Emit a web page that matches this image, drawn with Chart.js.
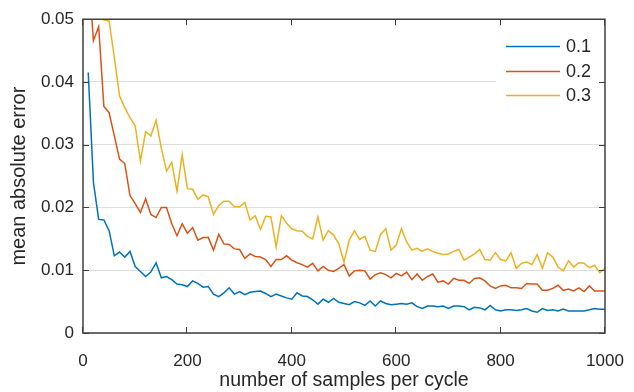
<!DOCTYPE html>
<html>
<head>
<meta charset="utf-8">
<script src="https://cdn.jsdelivr.net/npm/chart.js@4.4.1/dist/chart.umd.min.js"></script>
<style>
  body { margin: 0; background: #fff; }
</style>
</head>
<body>
<canvas id="mae-canvas" width="634" height="392"></canvas>
<script>
// samples per cycle (x)
const samples = [10, 20, 30, 40, 50, 60, 70, 80, 90, 100,
  110, 120, 130, 140, 150, 160, 170, 180, 190, 200,
  210, 220, 230, 240, 250, 260, 270, 280, 290, 300,
  310, 320, 330, 340, 350, 360, 370, 380, 390, 400,
  410, 420, 430, 440, 450, 460, 470, 480, 490, 500,
  510, 520, 530, 540, 550, 560, 570, 580, 590, 600,
  610, 620, 630, 640, 650, 660, 670, 680, 690, 700,
  710, 720, 730, 740, 750, 760, 770, 780, 790, 800,
  810, 820, 830, 840, 850, 860, 870, 880, 890, 900,
  910, 920, 930, 940, 950, 960, 970, 980, 990, 1000];

// mean absolute error
const mae01 = [0.0415, 0.0240, 0.0181, 0.0180, 0.0163, 0.0123, 0.0129, 0.0121, 0.0130, 0.0106,
  0.0098, 0.0090, 0.0097, 0.0112, 0.0088, 0.0090, 0.0085, 0.0078, 0.0077, 0.0074,
  0.0083, 0.0079, 0.0073, 0.0074, 0.0062, 0.0058, 0.0064, 0.0072, 0.0062, 0.0066,
  0.0061, 0.0065, 0.0066, 0.0067, 0.0063, 0.0058, 0.0062, 0.0059, 0.0056, 0.0054,
  0.0064, 0.0059, 0.0058, 0.0053, 0.0046, 0.0054, 0.0049, 0.0055, 0.0049, 0.0047,
  0.0045, 0.0050, 0.0048, 0.0044, 0.0051, 0.0043, 0.0051, 0.0047, 0.0045, 0.0046,
  0.0047, 0.0046, 0.0048, 0.0042, 0.0039, 0.0043, 0.0043, 0.0042, 0.0043, 0.0039,
  0.0043, 0.0043, 0.0042, 0.0037, 0.0041, 0.0040, 0.0037, 0.0044, 0.0037, 0.0035,
  0.0037, 0.0037, 0.0036, 0.0037, 0.0039, 0.0035, 0.0033, 0.0039, 0.0036, 0.0037,
  0.0035, 0.0038, 0.0035, 0.0035, 0.0035, 0.0035, 0.0037, 0.0039, 0.0038, 0.0038];

const mae02 = [0.0580, 0.0466, 0.0488, 0.0361, 0.0351, 0.0314, 0.0277, 0.0270, 0.0219, 0.0206,
  0.0192, 0.0214, 0.0189, 0.0184, 0.0200, 0.0200, 0.0174, 0.0155, 0.0174, 0.0159,
  0.0168, 0.0148, 0.0152, 0.0152, 0.0132, 0.0157, 0.0142, 0.0141, 0.0134, 0.0133,
  0.0119, 0.0126, 0.0122, 0.0121, 0.0117, 0.0106, 0.0117, 0.0117, 0.0123, 0.0116,
  0.0112, 0.0109, 0.0105, 0.0111, 0.0099, 0.0106, 0.0100, 0.0098, 0.0103, 0.0109,
  0.0091, 0.0099, 0.0100, 0.0099, 0.0086, 0.0093, 0.0096, 0.0093, 0.0088, 0.0095,
  0.0091, 0.0097, 0.0085, 0.0094, 0.0084, 0.0090, 0.0094, 0.0081, 0.0083, 0.0078,
  0.0087, 0.0084, 0.0084, 0.0079, 0.0087, 0.0088, 0.0083, 0.0075, 0.0071, 0.0075,
  0.0076, 0.0072, 0.0072, 0.0071, 0.0079, 0.0078, 0.0078, 0.0068, 0.0068, 0.0071,
  0.0076, 0.0068, 0.0070, 0.0067, 0.0072, 0.0066, 0.0075, 0.0067, 0.0067, 0.0067];

const mae03 = [0.0700, 0.0620, 0.0560, 0.0499, 0.0497, 0.0439, 0.0378, 0.0359, 0.0343, 0.0330,
  0.0274, 0.0321, 0.0314, 0.0339, 0.0295, 0.0258, 0.0272, 0.0226, 0.0284, 0.0230,
  0.0229, 0.0213, 0.0220, 0.0217, 0.0189, 0.0203, 0.0210, 0.0210, 0.0201, 0.0201,
  0.0208, 0.0180, 0.0187, 0.0165, 0.0186, 0.0185, 0.0137, 0.0187, 0.0175, 0.0166,
  0.0163, 0.0162, 0.0154, 0.0150, 0.0185, 0.0148, 0.0163, 0.0156, 0.0142, 0.0113,
  0.0148, 0.0163, 0.0149, 0.0154, 0.0132, 0.0130, 0.0157, 0.0166, 0.0132, 0.0140,
  0.0166, 0.0145, 0.0132, 0.0135, 0.0130, 0.0134, 0.0130, 0.0127, 0.0125, 0.0126,
  0.0130, 0.0133, 0.0116, 0.0121, 0.0126, 0.0133, 0.0117, 0.0116, 0.0128, 0.0117,
  0.0115, 0.0128, 0.0103, 0.0111, 0.0113, 0.0109, 0.0125, 0.0103, 0.0128, 0.0121,
  0.0105, 0.0099, 0.0115, 0.0105, 0.0112, 0.0111, 0.0104, 0.0108, 0.0096, 0.0103];

const seriesLabels = ['0.1', '0.2', '0.3'];
const seriesColors = ['#0072BD', '#D95319', '#EDB120'];

const xTicks = [0, 200, 400, 600, 800, 1000];
const xTickLabels = ['0', '200', '400', '600', '800', '1000'];
const yTicks = [0, 0.01, 0.02, 0.03, 0.04, 0.05];
const yTickLabels = ['0', '0.01', '0.02', '0.03', '0.04', '0.05'];

const FONT = '"Liberation Sans", Arial, Helvetica, sans-serif';
const TEXT = '#262626';
const AXIS = '#404040';

function toPoints(values) {
    return values.map((v, i) => ({ x: samples[i], y: v }));
}

// legend inside the axes plus a matlab-like box with inward ticks
const axesBoxPlugin = {
    id: 'axesBox',
    afterDraw(chart) {
        const c = chart.ctx;
        const a = chart.chartArea;
        const L = a.left, R = a.right, T = a.top, B = a.bottom;

        c.save();
        // legend
        c.fillStyle = '#fff';
        c.fillRect(R - 109, T + 10, 107, 82);
        c.font = '18px ' + FONT;
        c.textBaseline = 'middle';
        chart.data.datasets.forEach((ds, i) => {
            const y = Math.round(T + 27 + i * 24.5) + 0.5;
            c.strokeStyle = ds.borderColor;
            c.lineWidth = 1.5;
            c.beginPath();
            c.moveTo(R - 99, y);
            c.lineTo(R - 45, y);
            c.stroke();
            c.fillStyle = TEXT;
            c.fillText(ds.label, R - 39, y + 1);
        });

        // box edges, stroked like the series lines
        c.strokeStyle = AXIS;
        c.lineWidth = 1.5;
        c.lineCap = 'square';
        c.beginPath();
        c.moveTo(L, T); c.lineTo(R, T);
        c.lineTo(R, B); c.lineTo(L, B);
        c.closePath();
        c.stroke();

        // inward ticks
        c.lineWidth = 1;
        c.lineCap = 'butt';
        c.beginPath();
        xTicks.forEach(v => {
            const x = Math.round(chart.scales.x.getPixelForValue(v)) - 0.5;
            c.moveTo(x, B); c.lineTo(x, B - 6);
            c.moveTo(x, T); c.lineTo(x, T + 6);
        });
        yTicks.forEach(v => {
            const y = Math.round(chart.scales.y.getPixelForValue(v)) + 0.5;
            c.moveTo(L, y); c.lineTo(L + 6, y);
            c.moveTo(R, y); c.lineTo(R - 6, y);
        });
        c.stroke();
        c.restore();
    }
};

new Chart(document.getElementById('mae-canvas').getContext('2d'), {
    type: 'line',
    data: {
        datasets: [mae01, mae02, mae03].map((vals, i) => ({
            label: seriesLabels[i],
            data: toPoints(vals),
            borderColor: seriesColors[i],
            backgroundColor: seriesColors[i],
            borderWidth: 1.5,
            pointRadius: 0,
            tension: 0,
            fill: false
        }))
    },
    options: {
        responsive: false,
        animation: false,
        layout: { padding: { top: 18, right: 29, left: 0, bottom: 0 } },
        plugins: {
            legend: { display: false },
            tooltip: { enabled: false }
        },
        scales: {
            x: {
                type: 'linear',
                min: 0,
                max: 1000,
                afterBuildTicks: s => { s.ticks = xTicks.map(v => ({ value: v })); },
                afterFit: s => { s.height = 59; },
                ticks: {
                    padding: 10,
                    maxRotation: 0,
                    color: TEXT,
                    font: { size: 17, family: FONT },
                    callback: v => xTickLabels[xTicks.indexOf(v)]
                },
                grid: { display: false },
                border: { display: false },
                title: {
                    display: true,
                    text: 'number of samples per cycle',
                    color: TEXT,
                    font: { size: 19.5, family: FONT },
                    padding: { top: 0, bottom: 0 }
                }
            },
            y: {
                min: 0,
                max: 0.05,
                afterBuildTicks: s => { s.ticks = yTicks.map(v => ({ value: v })); },
                afterFit: s => { s.width = 83; },
                ticks: {
                    padding: 9,
                    color: TEXT,
                    font: { size: 17, family: FONT },
                    callback: v => yTickLabels[yTicks.indexOf(v)]
                },
                grid: { color: '#dedede', lineWidth: 1, drawTicks: false },
                border: { display: false },
                title: {
                    display: true,
                    text: 'mean absolute error',
                    color: TEXT,
                    font: { size: 20, family: FONT },
                    padding: { top: 7, bottom: 0 }
                }
            }
        }
    },
    plugins: [axesBoxPlugin]
});
</script>
</body>
</html>
